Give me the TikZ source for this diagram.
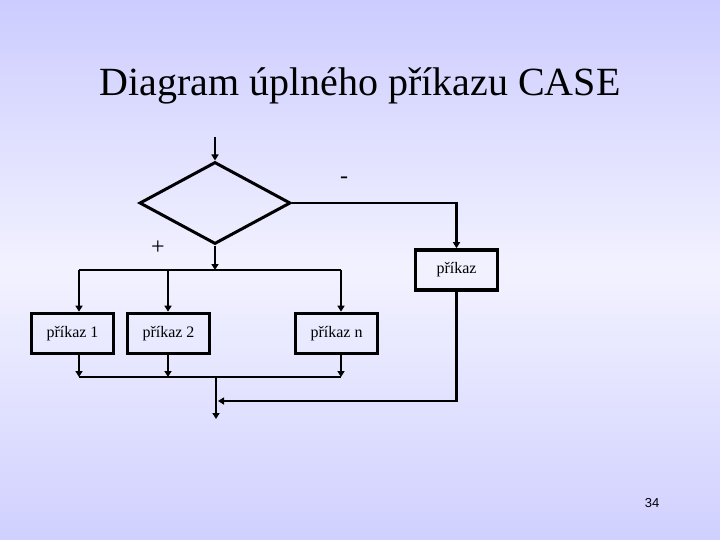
\documentclass[tikz,border=0pt]{standalone}
\usepackage{fontspec}
\setmainfont{Liberation Serif}
\newfontfamily\numfont{Liberation Sans}
\usetikzlibrary{shapes.geometric,arrows.meta}
\definecolor{bgtop}{RGB}{204,204,255}
\definecolor{bgmid}{RGB}{242,242,255}
\definecolor{bgbot}{RGB}{208,208,255}
\tikzset{
  conn/.style={line width=2.8pt},
  arr/.style={conn,-{Triangle[length=6pt,width=7pt]}},
  cmd/.style={draw,line width=3.6pt,minimum width=82pt,minimum height=40pt,inner sep=0pt,font=\fontsize{16}{19}\selectfont},
  cond/.style={draw,diamond,line width=3pt,minimum width=151pt,minimum height=82pt,inner sep=0pt},
}
\begin{document}
\begin{tikzpicture}[x=1pt,y=-1pt]
\useasboundingbox (0,0) rectangle (720,540);
\shade[top color=bgtop,bottom color=bgbot,middle color=bgmid] (0,0) rectangle (720,540);
\node[font=\fontsize{40}{46}\selectfont] (title) at (360,86) {Diagram úplného příkazu CASE};
\coordinate (in) at (215,137);
\node[cond] (d) at (215,203) {};
\node[font=\fontsize{24}{28}\selectfont] (minus) at (344,180) {-};
\node[font=\fontsize{24}{28}\selectfont] (plus) at (158,248) {+};
\node[cmd] (bp) at (456.5,270) {příkaz};
\node[cmd] (b1) at (72.5,333.5) {příkaz 1};
\node[cmd] (b2) at (168.5,333.5) {příkaz 2};
\node[cmd] (bn) at (336.5,333.5) {příkaz n};
\node[font=\numfont\fontsize{13}{15}\selectfont] (num) at (652,503) {34};
% coordinates of the junctions
\coordinate (s) at (215,270);
\coordinate (sl) at (79,270);
\coordinate (sm) at (168,270);
\coordinate (sr) at (341,270);
\coordinate (jl) at (79,377);
\coordinate (jm) at (168,377);
\coordinate (jr) at (341,377);
\coordinate (jc) at (216,377);
\coordinate (mr) at (218,401);
\coordinate (out) at (216,419);
% connectors
\draw[arr] (in) -- (d.north);
\draw[arr] (d.east) -| (bp.north);
\draw[arr] (d.south) -- (s);
\draw[conn] (sl) -- (sr);
\draw[arr] (sl) -- (sl |- b1.north);
\draw[arr] (sm) -- (sm |- b2.north);
\draw[arr] (sr) -- (sr |- bn.north);
\draw[arr] (sl |- b1.south) -- (jl);
\draw[arr] (sm |- b2.south) -- (jm);
\draw[arr] (sr |- bn.south) -- (jr);
\draw[conn] (jl) -- (jr);
\draw[arr] (jc) -- (out);
\draw[arr] (bp.south) |- (mr);
\end{tikzpicture}
\end{document}
